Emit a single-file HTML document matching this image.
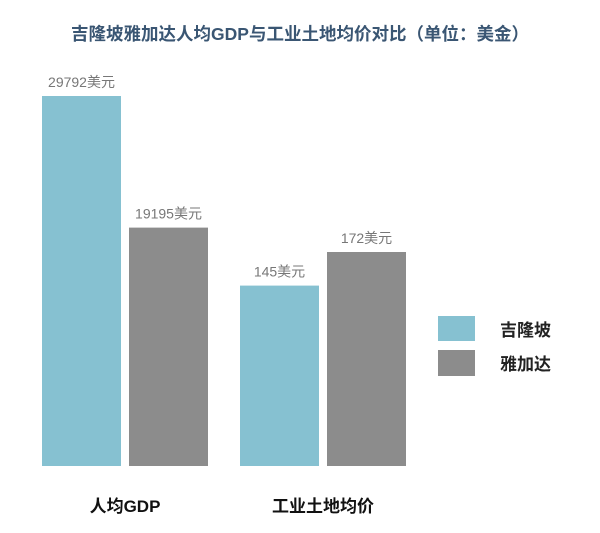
<!DOCTYPE html>
<html><head><meta charset="utf-8"><style>
body{margin:0;width:600px;height:528px;background:#fff;overflow:hidden;font-family:"Liberation Sans","Noto Sans CJK SC",sans-serif}
</style></head><body>
<svg width="600" height="528">
<text x="300" y="40" text-anchor="middle" font-size="17.5" font-weight="bold" fill="#3a5673">吉隆坡雅加达人均GDP与工业土地均价对比（单位：美金）</text>
<g id="bars"></g>
<g>
<rect x="438" y="316" width="37" height="25" fill="#86c1d1"/>
<text x="500" y="336" font-size="17" font-weight="bold" fill="#222">吉隆坡</text>
<rect x="438" y="350" width="37" height="26" fill="#8c8c8c"/>
<text x="500" y="370" font-size="17" font-weight="bold" fill="#222">雅加达</text>
</g>
</svg>
<script>
const categories=["人均GDP","工业土地均价"];
const klValues=[29792,145];
const jkValues=[19195,172];
const valueSuffix="美元";
const baseY=466;
const groupScale=[370/29792,214/172];
const groupX=[42,240];
const colors=["#86c1d1","#8c8c8c"];
const g=document.getElementById('bars');
const NS="http://www.w3.org/2000/svg";
function yOf(v,i){return baseY-v*groupScale[i];}
categories.forEach((c,i)=>{
  [klValues[i],jkValues[i]].forEach((v,s)=>{
    const x=groupX[i]+s*87;
    const r=document.createElementNS(NS,'rect');
    r.setAttribute('x',x);r.setAttribute('y',yOf(v,i));
    r.setAttribute('width',79);r.setAttribute('height',baseY-yOf(v,i));
    r.setAttribute('fill',colors[s]);
    
    
    g.appendChild(r);
    const t=document.createElementNS(NS,'text');
    t.setAttribute('x',x+39.5);t.setAttribute('y',yOf(v,i)-9);
    t.setAttribute('text-anchor','middle');t.setAttribute('font-size','14');t.setAttribute('fill','#777');
    t.textContent=v+valueSuffix;
    
    
    g.appendChild(t);
  });
  const l=document.createElementNS(NS,'text');
  l.setAttribute('x',groupX[i]+83);l.setAttribute('y',512);
  l.setAttribute('text-anchor','middle');l.setAttribute('font-size','17');l.setAttribute('font-weight','bold');l.setAttribute('fill','#111');
  l.textContent=c;
  
  
  g.appendChild(l);
});
</script>
</body></html>
